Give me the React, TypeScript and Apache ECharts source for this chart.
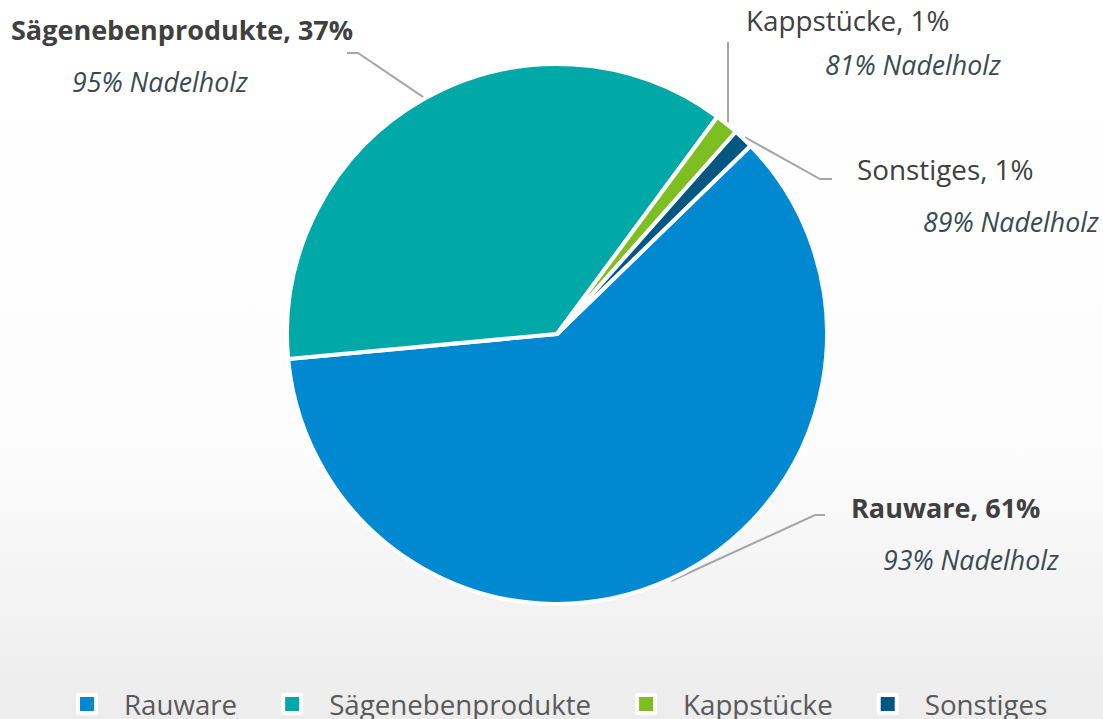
import React, { useEffect, useRef } from "react";
import * as echarts from "echarts";

const categories = ["Rauware", "Sägenebenprodukte", "Kappstücke", "Sonstiges"];
const shares = [60.8, 36.6, 1.4, 1.2];
const shareLabels = ["61%", "37%", "1%", "1%"];
const softwoodLabels = ["93% Nadelholz", "95% Nadelholz", "81% Nadelholz", "89% Nadelholz"];
const colors = ["#0089D1", "#00A8A8", "#7DBF21", "#005782"];

const CENTER = [557, 334];
const RADIUS = 270;
const START_ANGLE = 44.2;

// label placement (layout only)
const labelLayouts = [
  { x: 851, y: 481, lh: 52, indent: 32, bold: true, elbow: [815, 515], end: [825, 515] },
  { x: 11, y: 3, lh: 52, indent: 61, bold: true, elbow: [358, 53], end: [347, 53] },
  { x: 746, y: -3, lh: 45, indent: 79, bold: false, elbow: null, end: null, top: 42 },
  { x: 857, y: 143, lh: 52, indent: 66, bold: false, elbow: [820, 179], end: [832, 179] },
];

function edgePoint(idx: number) {
  const total = shares.reduce((a, b) => a + b, 0);
  let cum = 0;
  for (let i = 0; i < idx; i++) cum += shares[i];
  const mid = cum + shares[idx] / 2;
  const angFromTop = ((90 - START_ANGLE) + (360 * mid) / total) * Math.PI / 180;
  const r = RADIUS + 2;
  return [CENTER[0] + r * Math.sin(angFromTop), CENTER[1] - r * Math.cos(angFromTop)];
}

export default function App() {
  const ref = useRef<HTMLDivElement>(null);
  useEffect(() => {
    document.body.style.margin = "0";
    if (!ref.current) return;
    const chart = echarts.init(ref.current, null, { renderer: "svg" });
    const data = categories.map((name, i) => {
      const l = labelLayouts[i];
      return {
        name,
        value: shares[i],
        itemStyle: { color: colors[i] },
        label: {
          formatter: `{a|${name}, ${shareLabels[i]}}\n{b|${softwoodLabels[i]}}`,
          rich: {
            a: {
              fontFamily: "Open Sans",
              fontSize: l.bold ? 27 : 27.8,
              fontWeight: l.bold ? "bold" : "normal",
              color: "#404040",
              lineHeight: l.lh,
            },
            b: {
              fontFamily: "Open Sans",
              fontSize: 26.7,
              fontStyle: "italic",
              color: "#3A4A50",
              lineHeight: l.lh,
              padding: [0, 0, 0, l.indent],
            },
          },
        },
      };
    });
    chart.setOption({
      animation: false,
      backgroundColor: {
        type: "linear",
        x: 0,
        y: 0,
        x2: 0,
        y2: 1,
        colorStops: [
          { offset: 0, color: "#FFFFFF" },
          { offset: 0.6, color: "#FDFDFD" },
          { offset: 1, color: "#ECECEC" },
        ],
      },
      legend: {
        data: categories,
        left: 76,
        top: 689,
        padding: 0,
        icon: "rect",
        itemWidth: 18,
        itemHeight: 18,
        itemGap: 44,
        itemStyle: { borderColor: "#FFFFFF", borderWidth: 4 },
        selectedMode: false,
        textStyle: {
          fontFamily: "Open Sans",
          fontSize: 27.7,
          color: "#595959",
          lineHeight: 30,
          padding: [0, 0, 0, 23],
        },
      },
      series: [
        {
          type: "pie",
          center: CENTER,
          radius: RADIUS,
          startAngle: START_ANGLE,
          clockwise: true,
          avoidLabelOverlap: false,
          silent: true,
          itemStyle: { borderColor: "#FFFFFF", borderWidth: 4 },
          label: { show: true, position: "outside" },
          labelLine: {
            show: true,
            maxSurfaceAngle: 180,
            minTurnAngle: 0,
            lineStyle: { color: "#A6A6A6", width: 2 },
          },
          emphasis: { disabled: true },
          data,
          labelLayout: (params: any) => {
            const l = labelLayouts[params.dataIndex];
            const start = edgePoint(params.dataIndex);
            let linePts;
            if (l.elbow) {
              linePts = [start, l.elbow, l.end];
            } else {
              linePts = [start, [start[0], l.top], [start[0], l.top]];
            }
            return {
              x: l.x,
              y: l.y,
              align: "left",
              verticalAlign: "top",
              labelLinePoints: linePts,
            };
          },
        },
      ],
    });
    return () => chart.dispose();
  }, []);
  return <div ref={ref} style={{ width: 1103, height: 719 }} />;
}
